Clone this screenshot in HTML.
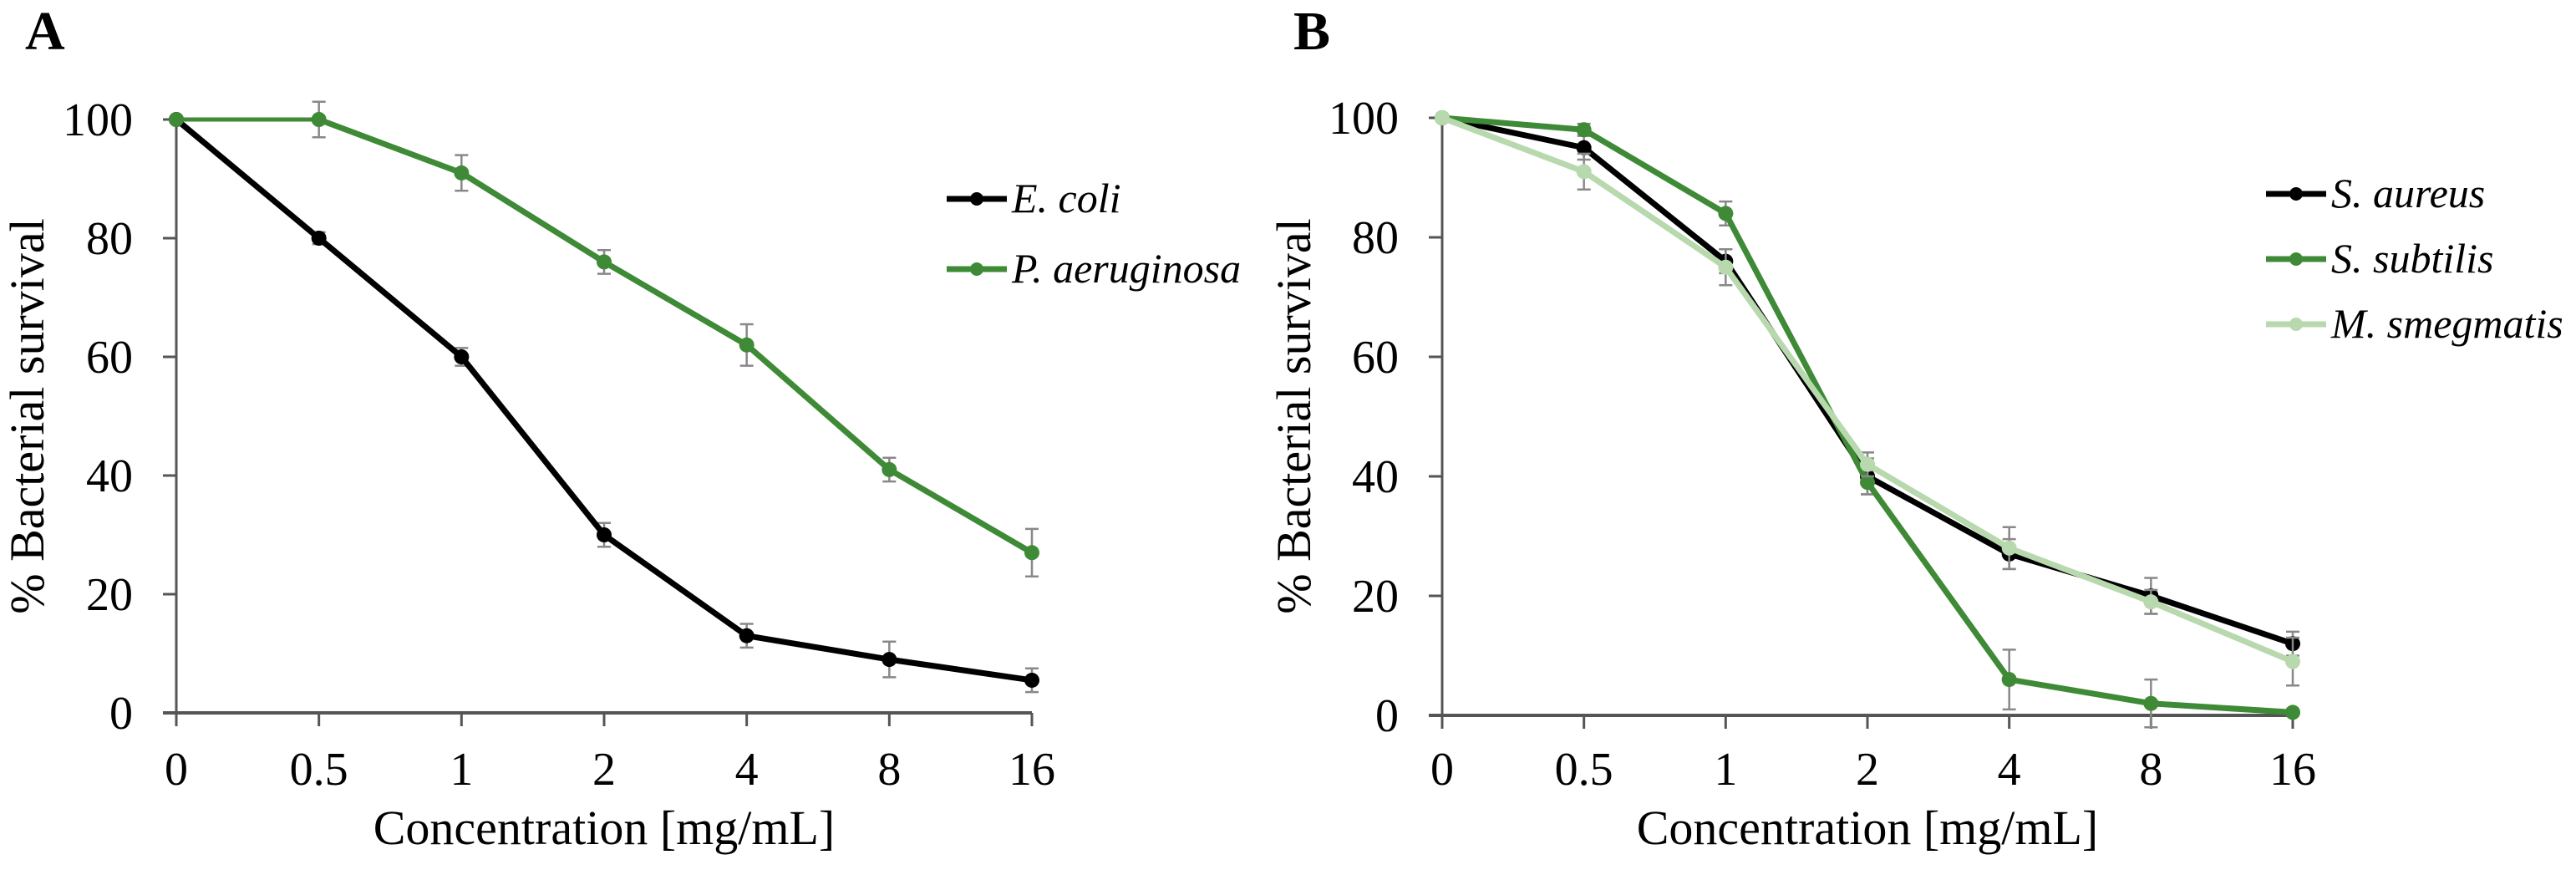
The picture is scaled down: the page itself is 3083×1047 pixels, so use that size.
<!DOCTYPE html>
<html><head><meta charset="utf-8">
<style>
html,body{margin:0;padding:0;background:#fff;}
svg{display:block;font-family:"Liberation Serif",serif;}
svg text{font-family:"Liberation Serif",serif;}
</style></head>
<body>
<svg id="chart" width="3083" height="1047" viewBox="0 0 3083 1047" xmlns="http://www.w3.org/2000/svg" font-family="Liberation Serif, serif">
<rect width="3083" height="1047" fill="#fff"/>
<text x="30" y="59" font-size="66" font-weight="bold" font-family="Liberation Serif, serif">A</text>
<text x="1548" y="59" font-size="66" font-weight="bold" font-family="Liberation Serif, serif">B</text>
<g id="pa"></g>
<g id="pb"></g>
</svg>
<script>
const categories = ["0","0.5","1","2","4","8","16"];
const yTicks = [0,20,40,60,80,100];
const ecoliVals = [100,80,60,30,13,9,5.5];
const ecoliErr = [0,1,1.5,2,2,3,2];
const paerVals = [100,100,91,76,62,41,27];
const paerErr = [0,3,3,2,3.5,2,4];
const saurVals = [100,95,76,40,27,20,12];
const saurErr = [0,2,2,3,2.5,3,2];
const ssubVals = [100,98,84,39,6,2,0.5];
const ssubErr = [0,1,2,2,5,4,0.5];
const msmegVals = [100,91,75,42,28,19,9];
const msmegErr = [0,3,3,2,3.5,2,4];
const seriesNamesA = ["E. coli","P. aeruginosa"];
const seriesNamesB = ["S. aureus","S. subtilis","M. smegmatis"];

const NS = "http://www.w3.org/2000/svg";
const FF = "Liberation Serif, serif";
function mk(parent, tag, attrs, text){
  const e = document.createElementNS(NS, tag);
  for (const k in attrs) e.setAttribute(k, attrs[k]);
  if (tag === 'text') e.setAttribute('font-family', FF);
  if (text !== undefined) e.textContent = text;
  parent.appendChild(e);
  return e;
}
function panel(g, x0, x1, yTop, yBot, series, legend, yTitleX){
  const n = categories.length;
  const xs = i => x0 + (x1 - x0) * i / (n - 1);
  const ys = v => yBot - (yBot - yTop) * v / 100;
  const ax = mk(g,'line',{x1:x0,y1:yTop,x2:x0,y2:yBot+16,stroke:'#555','stroke-width':3});
  
  
  const bx = mk(g,'line',{x1:x0-16,y1:yBot,x2:x1,y2:yBot,stroke:'#555','stroke-width':4});
  
  
  yTicks.forEach(t=>{
    const y = ys(t);
    const tk = mk(g,'line',{x1:x0-16,y1:y,x2:x0,y2:y,stroke:'#555','stroke-width':3});
    
    
    const lb = mk(g,'text',{x:x0-52,y:y+19,'font-size':56,'text-anchor':'end'},String(t));
    
    
  });
  categories.forEach((c,i)=>{
    const x = xs(i);
    const tk = mk(g,'line',{x1:x,y1:yBot,x2:x,y2:yBot+16,stroke:'#555','stroke-width':3});
    
    
    const lb = mk(g,'text',{x:x,y:939,'font-size':56,'text-anchor':'middle'},c);
    
    
  });
  const xt = mk(g,'text',{x:(x0+x1)/2,y:1010,'font-size':58,'text-anchor':'middle'},'Concentration [mg/mL]');
  
  
  const yt = mk(g,'text',{x:0,y:0,'font-size':58,'text-anchor':'middle',transform:`translate(${yTitleX},498) rotate(-90)`},'% Bacterial survival');
  
  
  series.forEach((s,si)=>{
    const sg = mk(g,'g',{});
    
    
    s.vals.forEach((v,i)=>{
      if (!s.err[i]) return;
      const x = xs(i);
      const eb = mk(sg,'path',{d:`M${x},${ys(v+s.err[i])}V${ys(v-s.err[i])}M${x-8},${ys(v+s.err[i])}H${x+8}M${x-8},${ys(v-s.err[i])}H${x+8}`,stroke:'#888','stroke-width':2.5,fill:'none'});
      
      
    });
    for (let i = 0; i < s.vals.length - 1; i++) {
      const flat = s.vals[i] === s.vals[i+1];
      const seg = mk(sg,'line',{x1:xs(i),y1:ys(s.vals[i]),x2:xs(i+1),y2:ys(s.vals[i+1]),stroke:s.color,'stroke-width':flat?5:7,'stroke-linecap':'round'});
      
      
    }
    s.vals.forEach((v,i)=>{
      const c = mk(sg,'circle',{cx:xs(i),cy:ys(v),r:9,fill:s.color});
      
      
    });
    const ly = legend.y0 + si*legend.dy;
    const lg = mk(g,'g',{});
    
    
    mk(lg,'line',{x1:legend.x,y1:ly,x2:legend.x+72,y2:ly,stroke:s.color,'stroke-width':7});
    mk(lg,'circle',{cx:legend.x+36,cy:ly,r:8,fill:s.color});
    mk(lg,'text',{x:legend.x+78,y:ly+16,'font-size':50,'font-style':'italic'},s.name);
  });
}
panel(document.getElementById('pa'),211,1235,143,853,[
  {name:seriesNamesA[0],vals:ecoliVals,err:ecoliErr,color:'#000'},
  {name:seriesNamesA[1],vals:paerVals,err:paerErr,color:'#3f8a36'}
],{x:1133,y0:238,dy:84},52);
panel(document.getElementById('pb'),1726,2744,141,856,[
  {name:seriesNamesB[0],vals:saurVals,err:saurErr,color:'#000'},
  {name:seriesNamesB[1],vals:ssubVals,err:ssubErr,color:'#3f8a36'},
  {name:seriesNamesB[2],vals:msmegVals,err:msmegErr,color:'#b7d9ad'}
],{x:2712,y0:232,dy:78},1568);
</script>
</body></html>
